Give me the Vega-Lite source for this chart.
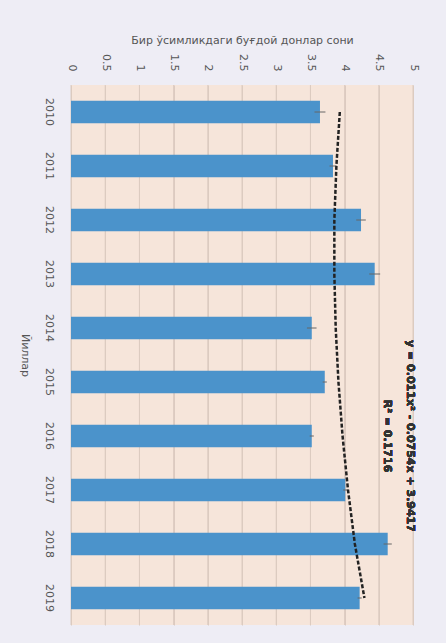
{
  "$schema": "https://vega.github.io/schema/vega-lite/v6.json",
  "width": 342,
  "height": 540,
  "autosize": {"type": "none"},
  "padding": {"left": 71, "top": 85, "right": 33, "bottom": 18},
  "background": "#eeedf5",
  "config": {
    "view": {"fill": "#f6e5da", "stroke": null},
    "font": "DejaVu Sans",
    "axis": {"labelColor": "#555555", "titleColor": "#555555", "labelFontSize": 11, "titleFontSize": 11, "titleFontWeight": "normal", "domain": false, "ticks": false, "labelOverlap": false},
    "axisX": {"labelExpr": "format(datum.value, '.1~f')", "labelBound": false, "labelFlush": false, "labelAngle": 90, "labelPadding": 14, "titlePadding": 8, "grid": true, "gridColor": "#dccbc0", "gridWidth": 1, "tickMinStep": 0.5}
  },
  "datasets": {
    "ticks": [{"t": 0}, {"t": 0.5}, {"t": 1}, {"t": 1.5}, {"t": 2}, {"t": 2.5}, {"t": 3}, {"t": 3.5}, {"t": 4}, {"t": 4.5}, {"t": 5}],
    "main": [
      {"year": "2010", "mean": 3.64, "err": 0.08, "trend": 3.93},
      {"year": "2011", "mean": 3.83, "err": 0.05, "trend": 3.88},
      {"year": "2012", "mean": 4.24, "err": 0.07, "trend": 3.85},
      {"year": "2013", "mean": 4.44, "err": 0.08, "trend": 3.85},
      {"year": "2014", "mean": 3.52, "err": 0.07, "trend": 3.87},
      {"year": "2015", "mean": 3.71, "err": 0.03, "trend": 3.91},
      {"year": "2016", "mean": 3.52, "err": 0.03, "trend": 3.97},
      {"year": "2017", "mean": 4.01, "err": 0.03, "trend": 4.05},
      {"year": "2018", "mean": 4.63, "err": 0.06, "trend": 4.15},
      {"year": "2019", "mean": 4.22, "err": 0.03, "trend": 4.29}
    ]
  },
  "data": {"name": "main"},
  "layer": [
    {
      "data": {"name": "ticks"},
      "mark": {"type": "rule", "color": "#dccbc0", "strokeWidth": 1},
      "encoding": {
        "x": {
          "field": "t", "type": "quantitative",
          "scale": {"domain": [0, 5], "nice": false},
          "axis": {"orient": "top", "title": "Бир ўсимликдаги буғдой донлар сони", "values": [0, 0.5, 1, 1.5, 2, 2.5, 3, 3.5, 4, 4.5, 5], "tickCount": 11, "tickMinStep": 0.5}
        }
      }
    },
    {
      "mark": {"type": "bar", "color": "#4b93cb"},
      "encoding": {
        "x": {"field": "mean", "type": "quantitative"},
        "y": {
          "field": "year", "type": "nominal",
          "scale": {"paddingInner": 0.58, "paddingOuter": 0.29},
          "axis": {"title": "Йиллар", "labelAngle": 90, "labelPadding": 17, "titleAngle": 90, "titlePadding": 24, "grid": false}
        }
      }
    },
    {
      "transform": [{"calculate": "datum.mean - datum.err", "as": "lo"}, {"calculate": "datum.mean + datum.err", "as": "hi"}],
      "mark": {"type": "rule", "color": "#666666", "strokeWidth": 1},
      "encoding": {"x": {"field": "lo", "type": "quantitative"}, "x2": {"field": "hi"}, "y": {"field": "year", "type": "nominal"}}
    },
    {
      "mark": {"type": "line", "color": "#222222", "strokeWidth": 2.5, "strokeDash": [4, 2]},
      "encoding": {"x": {"field": "trend", "type": "quantitative"}, "y": {"field": "year", "type": "nominal"}}
    },
    {
      "mark": {"type": "text", "angle": 90, "fontSize": 11, "fontWeight": "bold", "color": "#333333", "align": "center", "baseline": "middle", "text": "y = 0.011x² - 0.0754x + 3.9417"},
      "encoding": {"x": {"datum": 4.96}, "y": {"datum": "2016"}}
    },
    {
      "mark": {"type": "text", "angle": 90, "fontSize": 11, "fontWeight": "bold", "color": "#333333", "align": "center", "baseline": "middle", "text": "R² = 0.1716"},
      "encoding": {"x": {"datum": 4.62}, "y": {"datum": "2016"}}
    }
  ]
}
